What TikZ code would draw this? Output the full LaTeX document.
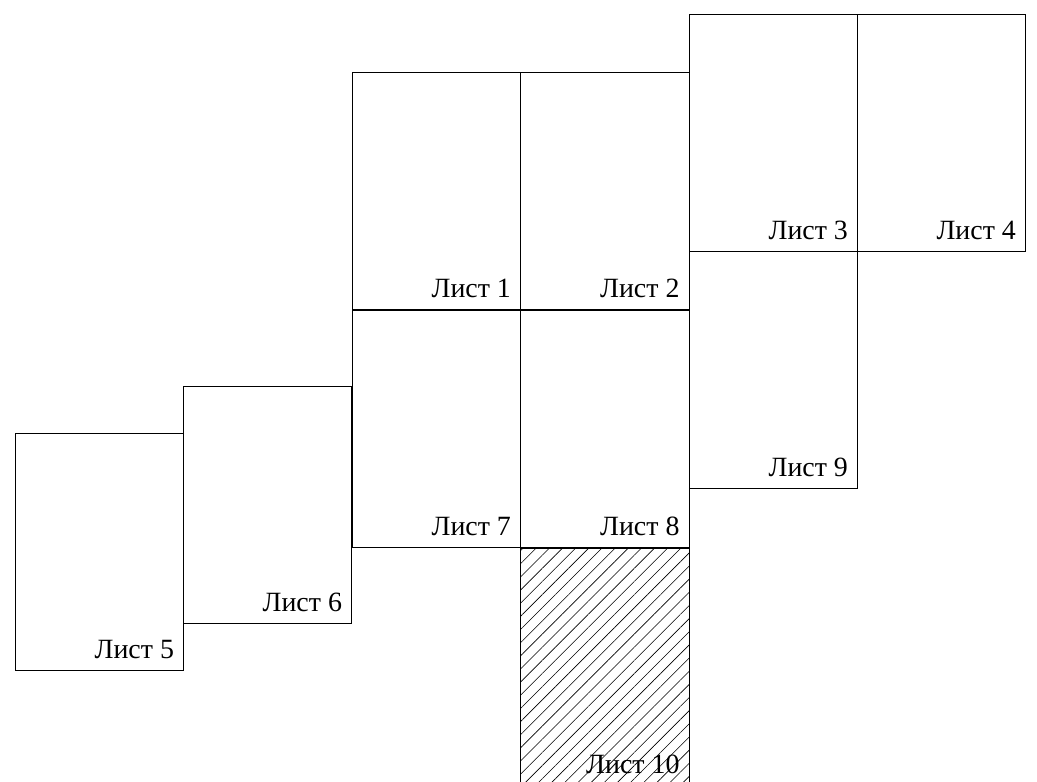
\documentclass[tikz,border=0pt]{standalone}
\usepackage{fontspec}
\setmainfont{Liberation Serif}
\usepackage{tikz}
\usetikzlibrary{patterns.meta}

\begin{document}
\begin{tikzpicture}[x=1cm, y=1cm,
  sheet/.style={draw, line width=0.6pt, minimum width=4.46cm, minimum height=6.29cm,
                inner sep=0pt, outer sep=0pt},
  hatched/.style={sheet, pattern={Lines[angle=45, distance=7pt, line width=0.45pt]}},
  lbl/.style={anchor=south east, font=\fontsize{21}{25}\selectfont,
              inner xsep=7pt, inner ysep=8.5pt}
]
\clip (0,0) rectangle (27.44,-20.69);
% --- sheets -------------------------------------------------------------
\node[sheet]   (s1)  at (11.543,-5.051)  {};
\node[sheet]   (s2)  at (16.002,-5.051)  {};
\node[sheet]   (s3)  at (20.460,-3.516)  {};
\node[sheet]   (s4)  at (24.905,-3.516)  {};
\node[sheet]   (s5)  at (2.627,-14.602)  {};
\node[sheet]   (s6)  at (7.072,-13.359)  {};
\node[sheet]   (s7)  at (11.543,-11.348) {};
\node[sheet]   (s8)  at (16.002,-11.348) {};
\node[sheet]   (s9)  at (20.460,-9.787)  {};
\node[hatched] (s10) at (16.002,-17.645) {};

% --- labels -------------------------------------------------------------
\foreach \i in {1,...,10}
  \node[lbl] (l\i) at (s\i.south east) {Лист \i};
\end{tikzpicture}
\end{document}
